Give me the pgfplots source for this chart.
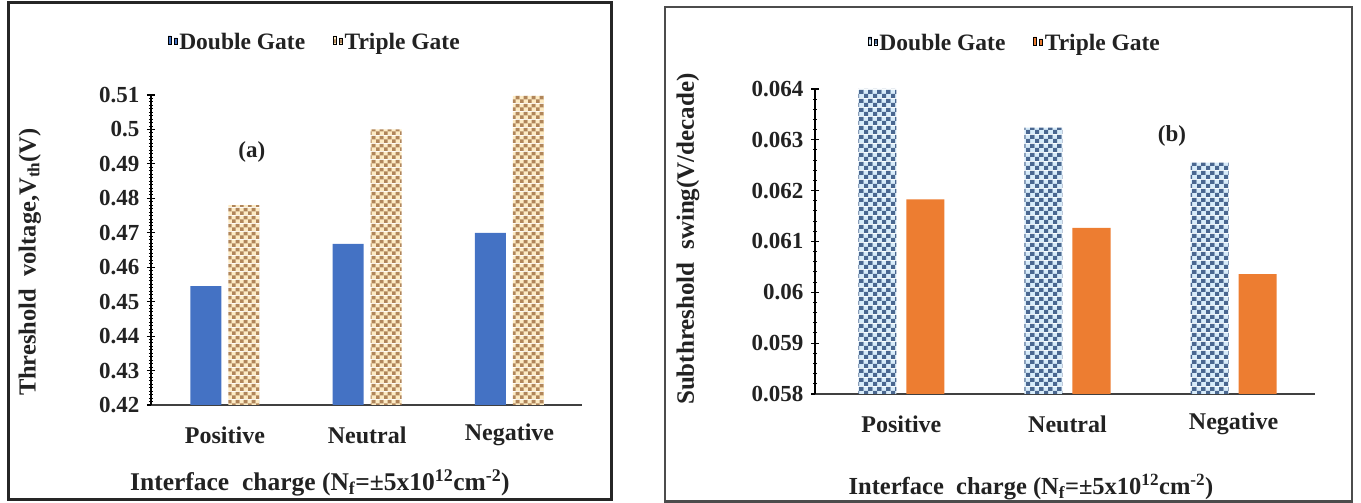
\documentclass[border=0pt]{standalone}
\usepackage{fontspec}
\setmainfont{Liberation Serif}
\usepackage{pgfplots}
\pgfplotsset{compat=1.18}
\usetikzlibrary{patterns}

\definecolor{dgblue}{HTML}{4472C4}
\definecolor{tgorange}{HTML}{ED7D31}
\definecolor{tandark}{HTML}{B0855A}
\definecolor{tanlight}{HTML}{FDEBC4}
\definecolor{bluedark}{HTML}{4A6790}
\definecolor{bluelight}{HTML}{D8ECFA}
\definecolor{txt}{HTML}{222222}

\pgfdeclarepatterninherentlycolored{checktan}{\pgfpointorigin}{\pgfqpoint{8pt}{8pt}}{\pgfqpoint{8pt}{8pt}}{%
  \pgfsetfillcolor{tanlight}\pgfpathrectangle{\pgfpointorigin}{\pgfqpoint{8pt}{8pt}}\pgfusepath{fill}%
  \pgfsetfillcolor{tandark}\pgfpathrectangle{\pgfpointorigin}{\pgfqpoint{4pt}{4pt}}\pgfusepath{fill}%
  \pgfpathrectangle{\pgfqpoint{4pt}{4pt}}{\pgfqpoint{4pt}{4pt}}\pgfusepath{fill}%
}
\pgfdeclarepatterninherentlycolored{checkblue}{\pgfpointorigin}{\pgfqpoint{9pt}{9pt}}{\pgfqpoint{9pt}{9pt}}{%
  \pgfsetfillcolor{bluelight}\pgfpathrectangle{\pgfpointorigin}{\pgfqpoint{9pt}{9pt}}\pgfusepath{fill}%
  \pgfsetfillcolor{bluedark}\pgfpathrectangle{\pgfpointorigin}{\pgfqpoint{4.5pt}{4.5pt}}\pgfusepath{fill}%
  \pgfpathrectangle{\pgfqpoint{4.5pt}{4.5pt}}{\pgfqpoint{4.5pt}{4.5pt}}\pgfusepath{fill}%
}

\pgfplotsset{
  common/.style={
    scale only axis,
    axis x line*=bottom, axis y line*=left,
    x axis line style={draw=black!75, line width=1.6pt},
    y axis line style={draw=black, line width=1.6pt},
    xtick={0,1,2}, xticklabels={Positive,Neutral,Negative},
    x tick style={draw=none},
    y tick style={draw=black, line width=1.2pt},
    minor y tick style={draw=black, line width=1pt},
    tick align=center,
    major tick length=8pt, minor tick length=4pt,
    scaled y ticks=false,
    yticklabel style={font=\fontsize{23}{27}\selectfont\bfseries, text=txt, xshift=-4pt},
    xticklabel style={font=\fontsize{24}{28}\selectfont\bfseries, text=txt, anchor=center, yshift=-22pt},
    legend columns=2,
    legend style={draw=none, fill=none, font=\fontsize{23.5}{27}\selectfont\bfseries, text=txt,
      /tikz/every even column/.append style={column sep=26pt}},
    legend image code/.code={\draw[#1, draw=none] (0pt,-5pt) rectangle (10pt,5pt);},
    enlarge x limits=false,
  }
}

\begin{document}
\begin{tikzpicture}
\useasboundingbox (0pt,0pt) rectangle (1361pt,503pt);
\draw[line width=3pt, black!85] (8pt,3pt) rectangle (611pt,500pt);
\draw[line width=2.5pt, black!70] (665pt,1.5pt) rectangle (1352pt,496pt);

% (a) Threshold voltage
\begin{axis}[common,
  at={(151pt,98pt)}, anchor=south west, width=431pt, height=310pt,
  ybar=7pt, bar width=31pt,
  xmin=-0.52, xmax=2.51, ymin=0.42, ymax=0.51,
  ytick={0.42,0.43,0.44,0.45,0.46,0.47,0.48,0.49,0.50,0.51},
  yticklabels={0.42,0.43,0.44,0.45,0.46,0.47,0.48,0.49,0.5,0.51},
  minor y tick num=9,
  xlabel={Interface\ \ charge (N\textsubscript{f}=\textpm5x10\textsuperscript{12}cm\textsuperscript{-2})},
  xlabel style={font=\fontsize{25.5}{29}\selectfont\bfseries, text=txt, at={(axis description cs:0.392,-0.252)}, anchor=center},
  ylabel={Threshold\ \ voltage,V\textsubscript{th}(V)},
  ylabel style={font=\fontsize{24.5}{28}\selectfont\bfseries, text=txt, at={(axis description cs:-0.281,0.461)}, anchor=center},
  legend style={at={(axis description cs:0.38,1.171)}, anchor=center},
]
\addplot[fill=dgblue, draw=none] coordinates {(0,0.4545) (1,0.4668) (2,0.4700)};
\addplot[pattern=checktan, draw=none] coordinates {(0,0.4780) (1,0.5000) (2,0.5100)};
\legend{Double Gate, Triple Gate}
\node[font=\fontsize{23}{27}\selectfont\bfseries, text=txt] at (rel axis cs:0.234,0.816) {(a)};
\end{axis}

% (b) Subthreshold swing
\begin{axis}[common,
  at={(815pt,109pt)}, anchor=south west, width=500pt, height=305pt,
  ybar=10pt, bar width=38pt,
  xmin=-0.52, xmax=2.49, ymin=0.058, ymax=0.064,
  ytick={0.058,0.059,0.060,0.061,0.062,0.063,0.064},
  yticklabels={0.058,0.059,0.06,0.061,0.062,0.063,0.064},
  minor y tick num=4,
  xlabel={Interface\ \ charge (N\textsubscript{f}=\textpm5x10\textsuperscript{12}cm\textsuperscript{-2})},
  xlabel style={font=\fontsize{24.5}{28}\selectfont\bfseries, text=txt, at={(axis description cs:0.432,-0.305)}, anchor=center},
  ylabel={Subthreshold\ \ swing(V/decade)},
  ylabel style={font=\fontsize{25}{29}\selectfont\bfseries, text=txt, at={(axis description cs:-0.254,0.508)}, anchor=center},
  legend style={at={(axis description cs:0.40,1.151)}, anchor=center},
]
\addplot[pattern=checkblue, draw=none] coordinates {(0,0.06400) (1,0.06324) (2,0.06255)};
\addplot[fill=tgorange, draw=none] coordinates {(0,0.06183) (1,0.06127) (2,0.06036)};
\legend{Double Gate, Triple Gate}
\node[font=\fontsize{23}{27}\selectfont\bfseries, text=txt] at (rel axis cs:0.714,0.846) {(b)};
\end{axis}
\end{tikzpicture}
\end{document}
